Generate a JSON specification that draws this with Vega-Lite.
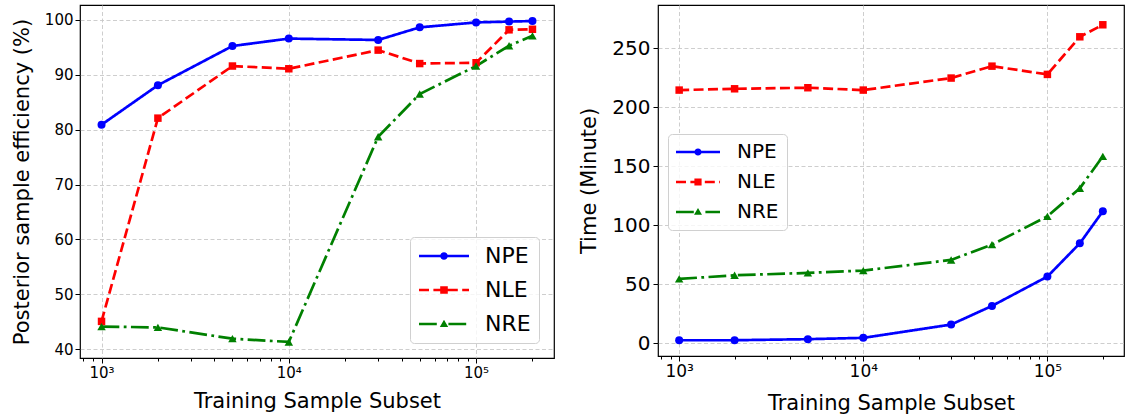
{
  "$schema": "https://vega.github.io/schema/vega-lite/v6.json",
  "padding": {"left": 10, "top": 4, "right": 0, "bottom": 0},
  "background": "white",
  "datasets": {
    "eff": [
      {"n": 1000, "model": "NPE", "value": 80.9},
      {"n": 2000, "model": "NPE", "value": 88.1},
      {"n": 5000, "model": "NPE", "value": 95.25},
      {"n": 10000, "model": "NPE", "value": 96.6},
      {"n": 30000, "model": "NPE", "value": 96.35},
      {"n": 50000, "model": "NPE", "value": 98.65},
      {"n": 100000, "model": "NPE", "value": 99.55},
      {"n": 150000, "model": "NPE", "value": 99.7},
      {"n": 200000, "model": "NPE", "value": 99.8},
      {"n": 1000, "model": "NLE", "value": 45.05},
      {"n": 2000, "model": "NLE", "value": 82.1},
      {"n": 5000, "model": "NLE", "value": 91.6},
      {"n": 10000, "model": "NLE", "value": 91.1},
      {"n": 30000, "model": "NLE", "value": 94.5},
      {"n": 50000, "model": "NLE", "value": 92.05},
      {"n": 100000, "model": "NLE", "value": 92.2},
      {"n": 150000, "model": "NLE", "value": 98.2},
      {"n": 200000, "model": "NLE", "value": 98.3},
      {"n": 1000, "model": "NRE", "value": 44.1},
      {"n": 2000, "model": "NRE", "value": 43.95},
      {"n": 5000, "model": "NRE", "value": 41.9},
      {"n": 10000, "model": "NRE", "value": 41.3},
      {"n": 30000, "model": "NRE", "value": 78.7},
      {"n": 50000, "model": "NRE", "value": 86.5},
      {"n": 100000, "model": "NRE", "value": 91.6},
      {"n": 150000, "model": "NRE", "value": 95.3},
      {"n": 200000, "model": "NRE", "value": 97.1}
    ],
    "time": [
      {"n": 1000, "model": "NPE", "value": 2.5},
      {"n": 2000, "model": "NPE", "value": 2.5},
      {"n": 5000, "model": "NPE", "value": 3.4},
      {"n": 10000, "model": "NPE", "value": 4.5},
      {"n": 30000, "model": "NPE", "value": 15.8},
      {"n": 50000, "model": "NPE", "value": 31.6},
      {"n": 100000, "model": "NPE", "value": 56.5},
      {"n": 150000, "model": "NPE", "value": 84.7},
      {"n": 200000, "model": "NPE", "value": 111.9},
      {"n": 1000, "model": "NLE", "value": 214.7},
      {"n": 2000, "model": "NLE", "value": 215.8},
      {"n": 5000, "model": "NLE", "value": 216.7},
      {"n": 10000, "model": "NLE", "value": 214.7},
      {"n": 30000, "model": "NLE", "value": 224.9},
      {"n": 50000, "model": "NLE", "value": 235.0},
      {"n": 100000, "model": "NLE", "value": 228.0},
      {"n": 150000, "model": "NLE", "value": 259.9},
      {"n": 200000, "model": "NLE", "value": 270.1},
      {"n": 1000, "model": "NRE", "value": 54.5},
      {"n": 2000, "model": "NRE", "value": 57.6},
      {"n": 5000, "model": "NRE", "value": 59.6},
      {"n": 10000, "model": "NRE", "value": 61.6},
      {"n": 30000, "model": "NRE", "value": 70.6},
      {"n": 50000, "model": "NRE", "value": 83.6},
      {"n": 100000, "model": "NRE", "value": 107.6},
      {"n": 150000, "model": "NRE", "value": 131.4},
      {"n": 200000, "model": "NRE", "value": 158.5}
    ]
  },
  "config": {
    "font": "DejaVu Sans",
    "view": {"stroke": "black", "strokeWidth": 1.2},
    "axis": {
      "labelFont": "DejaVu Sans",
      "titleFont": "DejaVu Sans",
      "titleFontWeight": "normal",
      "labelColor": "black",
      "titleColor": "black",
      "tickColor": "black",
      "tickWidth": 1,
      "domain": false,
      "grid": true,
      "gridColor": "#c8c8c8",
      "gridDash": [4, 2.5],
      "gridWidth": 0.9,
      "labelOverlap": false,
      "labelFlush": false,
      "labelBound": false
    },
    "legend": {
      "labelFont": "DejaVu Sans",
      "labelColor": "black"
    }
  },
  "resolve": {
    "scale": {"color": "independent", "strokeDash": "independent"},
    "legend": {"color": "independent", "strokeDash": "independent"}
  },
  "spacing": 23,
  "hconcat": [
    {
      "width": 474,
      "height": 353,
      "data": {"name": "eff"},
      "layer": [
        {
          "mark": {"type": "line", "strokeWidth": 2.7},
          "encoding": {
            "x": {
              "field": "n", "type": "quantitative",
              "scale": {"type": "log", "domain": [767.4, 260650], "nice": false},
              "axis": {
                "title": "Training Sample Subset",
                "titleFontSize": 21,
                "titlePadding": 10,
                "labelFontSize": 15,
                "labelPadding": 2,
                "values": [800, 900, 1000, 2000, 3000, 4000, 5000, 6000, 7000, 8000, 9000, 10000, 20000, 30000, 40000, 50000, 60000, 70000, 80000, 90000, 100000, 200000],
                "labelExpr": "datum.value == 1000 ? '10³' : datum.value == 10000 ? '10⁴' : datum.value == 100000 ? '10⁵' : ''",
                "tickSize": {"condition": {"test": "datum.value == 1000 || datum.value == 10000 || datum.value == 100000", "value": 5}, "value": 3},
                "gridOpacity": {"condition": {"test": "datum.value == 1000 || datum.value == 10000 || datum.value == 100000", "value": 1}, "value": 0}
              }
            },
            "y": {
              "field": "value", "type": "quantitative",
              "scale": {"domain": [38.375, 102.725], "nice": false, "zero": false},
              "axis": {
                "title": "Posterior sample efficiency (%)",
                "titleFontSize": 21,
                "titlePadding": 12,
                "labelFontSize": 15,
                "labelPadding": 2,
                "tickSize": 5,
                "values": [40, 50, 60, 70, 80, 90, 100]
              }
            },
            "color": {
              "field": "model", "type": "nominal",
              "scale": {"domain": ["NPE", "NLE", "NRE"], "range": ["#0000ff", "#ff0000", "#008000"]},
              "legend": {
                "orient": "none",
                "legendX": 330,
                "legendY": 232,
                "title": null,
                "labelFontSize": 22,
                "symbolSize": 400,
                "symbolStrokeWidth": 0,
                "symbolOffset": 15,
                "labelOffset": 30,
                "padding": 8,
                "rowPadding": 12,
                "strokeColor": "#d0d0d0",
                "fillColor": "rgba(255,255,255,0.8)",
                "cornerRadius": 4,
                "encode": {
                  "symbols": {
                    "update": {
                      "shape": {"signal": "datum.value === 'NPE' ? 'M-2.5,-0.13H2.5V0.13H-2.5Z M-0.38,0A0.38,0.38 0 1,1 0.38,0A0.38,0.38 0 1,1 -0.38,0Z' : datum.value === 'NLE' ? 'M-2.5,-0.13H-1.5V0.13H-2.5Z M-1.06,-0.13H-0.06V0.13H-1.06Z M0.38,-0.13H1.38V0.13H0.38Z M1.82,-0.13H2.5V0.13H1.82Z M-0.38,-0.38H0.38V0.38H-0.38Z' : 'M-2.5,-0.13H-0.72V0.13H-2.5Z M0.44,-0.13H2.22V0.13H0.44Z M0,-0.42L0.42,0.3L-0.42,0.3Z'"},
                      "fill": {"signal": "datum.value === 'NPE' ? '#0000ff' : datum.value === 'NLE' ? '#ff0000' : '#008000'"},
                      "fillOpacity": {"value": 1},
                      "opacity": {"value": 1},
                      "stroke": {"value": "transparent"},
                      "strokeWidth": {"value": 0}
                    }
                  }
                }
              }
            },
            "strokeDash": {
              "field": "model", "type": "nominal",
              "scale": {"domain": ["NPE", "NLE", "NRE"], "range": [[1, 0], [10, 4.4], [17.8, 4.4, 2.8, 4.4]]},
              "legend": null
            }
          }
        },
        {
          "mark": {"type": "point", "filled": true, "opacity": 1, "strokeWidth": 0},
          "encoding": {
            "x": {"field": "n", "type": "quantitative"},
            "y": {"field": "value", "type": "quantitative"},
            "color": {
              "condition": [
                {"test": "datum.model === 'NPE'", "value": "#0000ff"},
                {"test": "datum.model === 'NLE'", "value": "#ff0000"}
              ],
              "value": "#008000"
            },
            "shape": {
              "condition": [
                {"test": "datum.model === 'NPE'", "value": "circle"},
                {"test": "datum.model === 'NLE'", "value": "square"}
              ],
              "value": "triangle-up"
            },
            "size": {
              "condition": [
                {"test": "datum.model === 'NPE'", "value": 64},
                {"test": "datum.model === 'NLE'", "value": 56}
              ],
              "value": 72
            }
          }
        }
      ]
    },
    {
      "width": 466,
      "height": 351,
      "data": {"name": "time"},
      "layer": [
        {
          "mark": {"type": "line", "strokeWidth": 2.7},
          "encoding": {
            "x": {
              "field": "n", "type": "quantitative",
              "scale": {"type": "log", "domain": [767.4, 260650], "nice": false},
              "axis": {
                "title": "Training Sample Subset",
                "titleFontSize": 21,
                "titlePadding": 13,
                "labelFontSize": 17,
                "labelPadding": 2,
                "values": [800, 900, 1000, 2000, 3000, 4000, 5000, 6000, 7000, 8000, 9000, 10000, 20000, 30000, 40000, 50000, 60000, 70000, 80000, 90000, 100000, 200000],
                "labelExpr": "datum.value == 1000 ? '10³' : datum.value == 10000 ? '10⁴' : datum.value == 100000 ? '10⁵' : ''",
                "tickSize": {"condition": {"test": "datum.value == 1000 || datum.value == 10000 || datum.value == 100000", "value": 5}, "value": 3},
                "gridOpacity": {"condition": {"test": "datum.value == 1000 || datum.value == 10000 || datum.value == 100000", "value": 1}, "value": 0}
              }
            },
            "y": {
              "field": "value", "type": "quantitative",
              "scale": {"domain": [-10.88, 286.88], "nice": false, "zero": false},
              "axis": {
                "title": "Time (Minute)",
                "titleFontSize": 21,
                "titlePadding": 12,
                "labelFontSize": 20,
                "labelPadding": 3,
                "tickSize": 5,
                "values": [0, 50, 100, 150, 200, 250]
              }
            },
            "color": {
              "field": "model", "type": "nominal",
              "scale": {"domain": ["NPE", "NLE", "NRE"], "range": ["#0000ff", "#ff0000", "#008000"]},
              "legend": {
                "orient": "none",
                "legendX": 10,
                "legendY": 129,
                "title": null,
                "labelFontSize": 20,
                "symbolSize": 400,
                "symbolStrokeWidth": 0,
                "symbolOffset": 12,
                "labelOffset": 29,
                "padding": 8,
                "rowPadding": 10,
                "strokeColor": "#d0d0d0",
                "fillColor": "rgba(255,255,255,0.8)",
                "cornerRadius": 4,
                "encode": {
                  "symbols": {
                    "update": {
                      "shape": {"signal": "datum.value === 'NPE' ? 'M-2.2,-0.13H2.2V0.13H-2.2Z M-0.36,0A0.36,0.36 0 1,1 0.36,0A0.36,0.36 0 1,1 -0.36,0Z' : datum.value === 'NLE' ? 'M-2.2,-0.13H-1.2V0.13H-2.2Z M-0.76,-0.13H0.24V0.13H-0.76Z M0.68,-0.13H1.68V0.13H0.68Z M2.12,-0.13H2.2V0.13H2.12Z M-0.36,-0.36H0.36V0.36H-0.36Z' : 'M-2.2,-0.13H-0.42V0.13H-2.2Z M0.74,-0.13H2.2V0.13H0.74Z M0,-0.4L0.4,0.28L-0.4,0.28Z'"},
                      "fill": {"signal": "datum.value === 'NPE' ? '#0000ff' : datum.value === 'NLE' ? '#ff0000' : '#008000'"},
                      "fillOpacity": {"value": 1},
                      "opacity": {"value": 1},
                      "stroke": {"value": "transparent"},
                      "strokeWidth": {"value": 0}
                    }
                  }
                }
              }
            },
            "strokeDash": {
              "field": "model", "type": "nominal",
              "scale": {"domain": ["NPE", "NLE", "NRE"], "range": [[1, 0], [10, 4.4], [17.8, 4.4, 2.8, 4.4]]},
              "legend": null
            }
          }
        },
        {
          "mark": {"type": "point", "filled": true, "opacity": 1, "strokeWidth": 0},
          "encoding": {
            "x": {"field": "n", "type": "quantitative"},
            "y": {"field": "value", "type": "quantitative"},
            "color": {
              "condition": [
                {"test": "datum.model === 'NPE'", "value": "#0000ff"},
                {"test": "datum.model === 'NLE'", "value": "#ff0000"}
              ],
              "value": "#008000"
            },
            "shape": {
              "condition": [
                {"test": "datum.model === 'NPE'", "value": "circle"},
                {"test": "datum.model === 'NLE'", "value": "square"}
              ],
              "value": "triangle-up"
            },
            "size": {
              "condition": [
                {"test": "datum.model === 'NPE'", "value": 64},
                {"test": "datum.model === 'NLE'", "value": 56}
              ],
              "value": 72
            }
          }
        }
      ]
    }
  ]
}
